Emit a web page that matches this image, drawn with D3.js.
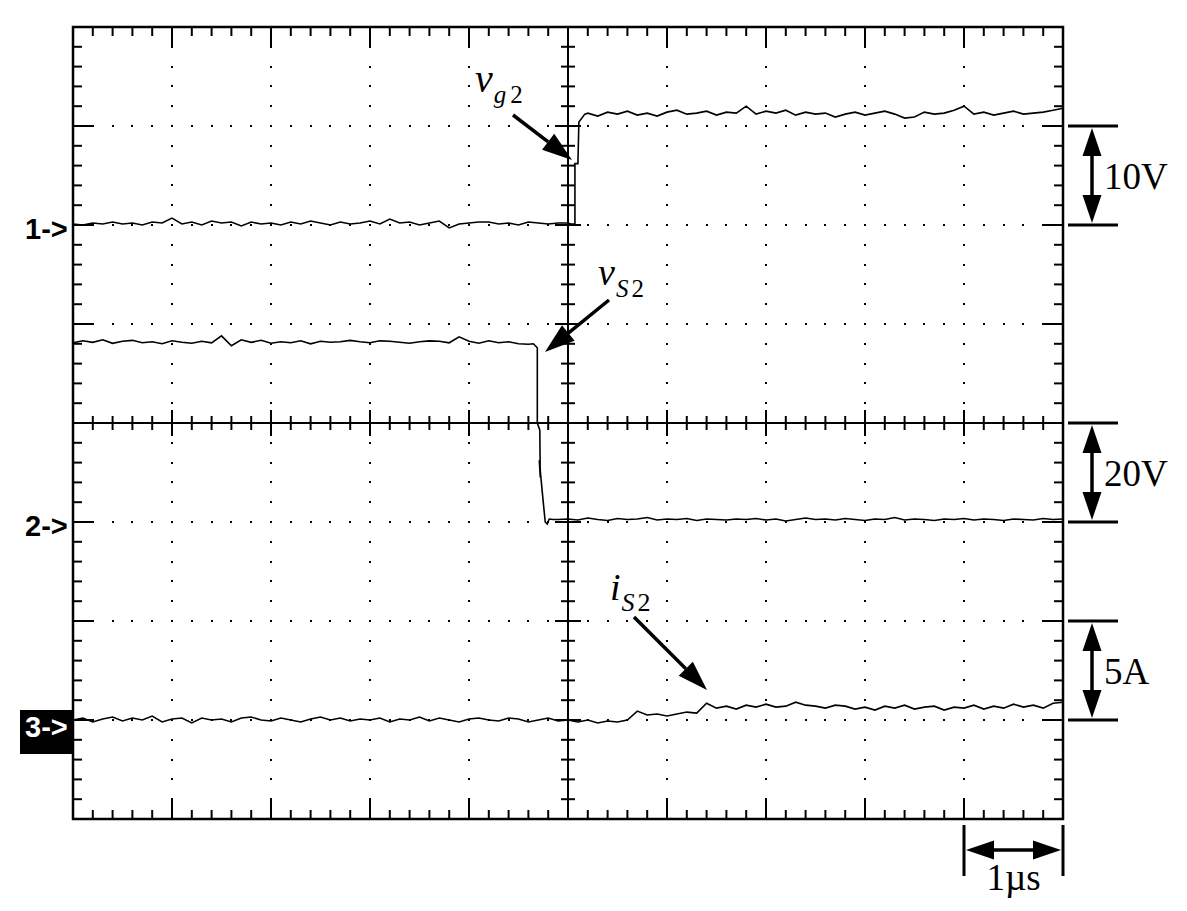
<!DOCTYPE html>
<html><head><meta charset="utf-8">
<script src="https://cdn.jsdelivr.net/npm/d3@7"></script>
<style>body{margin:0;background:#fff}</style>
</head><body>
<svg id="c" width="1187" height="911"></svg>
<script>
// ---- data (time in µs, 0.1 µs sample step) ----
// Channel 1: v_g2 (10 V/div)
const ch1LowStart = -5.0;
const ch1Low = [0.1,0.0,0.2,0.1,0.3,0.1,0.2,0.0,0.3,0.2,0.7,0.1,0.3,0.0,0.4,0.2,0.3,-0.1,0.3,0.1,
  0.2,0.0,0.3,0.1,0.4,0.2,0.0,0.3,0.1,0.2,0.4,0.1,0.6,0.2,0.3,0.0,0.2,0.4,-0.3,0.1,
  0.2,0.3,0.3,0.1,0.2,0.0,0.3,0.2,0.1,0.2,0.2];
const ch1Edge = [[0.03,0.1],[0.07,0.1],[0.07,6.2],[0.10,6.2],[0.11,10.4],[0.17,11.2]];
const ch1HighStart = 0.2;
const ch1High = [11.3,11.0,11.4,11.2,11.5,11.1,11.3,11.0,11.4,11.6,11.2,11.3,11.5,11.1,11.4,11.3,12.0,11.2,11.5,11.3,
  11.6,11.1,11.4,11.2,11.3,10.9,11.2,11.4,11.1,11.3,11.5,11.2,10.8,10.9,11.4,11.2,11.3,11.6,12.0,11.2,
  11.4,11.1,11.3,11.5,11.2,11.3,11.4,11.6,11.8];
// Channel 2: v_S2 (20 V/div)
const ch2HighStart = -5.0;
const ch2High = [36.2,36.6,36.3,36.8,36.1,36.5,36.7,36.2,36.4,36.0,36.6,36.3,36.1,36.5,36.2,37.6,35.6,36.8,36.3,36.7,
  36.1,36.4,36.2,36.6,36.0,36.5,36.3,36.4,36.7,36.4,36.2,36.6,36.5,36.3,36.1,36.4,36.6,36.5,36.2,37.4,
  36.5,36.1,36.6,36.2,36.4,36.0,35.9];
const ch2Edge = [[-0.35,36.0],[-0.31,35.2],[-0.31,20.0],[-0.285,18.6],[-0.28,9.0],[-0.29,12.5],[-0.27,8.2],
  [-0.25,4.0],[-0.23,0.0],[-0.21,-0.4],[-0.19,0.6],[-0.15,0.5]];
const ch2LowStart = -0.1;
const ch2Low = [0.5,0.6,0.4,0.8,0.5,0.3,0.7,0.5,0.6,0.9,0.4,0.6,0.5,0.7,0.3,0.6,0.5,0.4,0.6,0.5,
  0.7,0.4,0.6,0.2,0.5,0.8,0.5,0.6,0.4,0.7,0.5,0.3,0.6,0.5,0.9,0.4,0.6,0.5,0.3,0.6,
  0.5,0.7,0.4,0.6,0.5,0.3,0.6,0.5,0.4,0.7,0.5,0.6];
// Channel 3: i_S2 (5 A/div)
const ch3PreStart = -5.0;
const ch3Pre = [0.0,0.1,-0.1,0.05,0.15,-0.05,0.1,0.0,0.2,-0.1,0.05,0.1,-0.15,0.1,0.0,0.05,-0.1,0.1,0.15,0.0,
  -0.05,0.1,0.0,-0.1,0.05,0.15,0.0,0.1,-0.05,0.05,0.0,0.1,-0.1,0.05,0.0,0.15,-0.05,0.1,0.0,-0.1,
  0.05,0.1,0.0,-0.05,0.1,0.05,-0.1,0.0,0.1,-0.05,0.0];
const ch3PostStart = 0.1;
const ch3Post = [-0.1,0.0,-0.15,-0.05,-0.1,0.0,0.45,0.25,0.3,0.2,
  0.3,0.4,0.35,0.85,0.6,0.7,0.55,0.75,0.65,0.8,
  0.65,0.7,0.9,0.75,0.7,0.6,0.75,0.7,0.55,0.65,
  0.5,0.7,0.6,0.75,0.55,0.65,0.7,0.5,0.65,0.6,
  0.75,0.55,0.7,0.6,0.8,0.65,0.75,0.6,0.85,0.9];
const step = 0.1;

// scale indicators
const channelMarkers = [{label:"1->", div:2, boxed:false},{label:"2->", div:-1, boxed:false},{label:"3->", div:-3, boxed:true}];
const scaleBars = [{label:"10V", from:2, to:3},{label:"20V", from:-1, to:0},{label:"5A", from:-3, to:-2}];
const timeBar = {label:"1µs", from:4, to:5};

// ---- scales ----
const L=73, R=1063, T=27, B=819;
const x = d3.scaleLinear().domain([-5,5]).range([L,R]);
const yDiv = d3.scaleLinear().domain([-4,4]).range([B,T]);
const y1 = d3.scaleLinear().domain([-60,20]).range([B,T]);   // 10 V/div, ground at +2 div
const y2 = d3.scaleLinear().domain([-60,100]).range([B,T]);  // 20 V/div, ground at -1 div
const y3 = d3.scaleLinear().domain([-5,35]).range([B,T]);    // 5 A/div, ground at -3 div

const svg = d3.select("#c");
const g = svg.append("g");

// grid dots
const dots = [];
for (let i=1;i<10;i++){ if(i===5) continue;
  for (let k=1;k<40;k++) dots.push([x(i-5), yDiv(-4+k/5)]);
}
for (let j=1;j<8;j++){ if(j===4) continue;
  for (let k=1;k<50;k++) dots.push([x(-5+k/5), yDiv(j-4)]);
}
g.selectAll("rect.dot").data(dots).join("rect").attr("class","dot")
  .attr("x",d=>Math.round(d[0])-1).attr("y",d=>Math.round(d[1])-1).attr("width",2).attr("height",2).attr("fill","#000");

// border ticks
const tk = g.append("g").attr("stroke","#000").attr("stroke-width",2);
for (let k=1;k<50;k++){
  const xx = x(-5+k/5), major = k%5===0, len = major?21:9;
  tk.append("line").attr("x1",xx).attr("x2",xx).attr("y1",T).attr("y2",T+len);
  tk.append("line").attr("x1",xx).attr("x2",xx).attr("y1",B).attr("y2",B-len);
  const cl = major?13:7;
  tk.append("line").attr("x1",xx).attr("x2",xx).attr("y1",yDiv(0)-cl).attr("y2",yDiv(0)+cl);
}
for (let k=1;k<40;k++){
  const yy = yDiv(-4+k/5), major = k%5===0, len = major?21:9;
  tk.append("line").attr("y1",yy).attr("y2",yy).attr("x1",L).attr("x2",L+len);
  tk.append("line").attr("y1",yy).attr("y2",yy).attr("x1",R).attr("x2",R-len);
  const cl = major?13:7;
  tk.append("line").attr("y1",yy).attr("y2",yy).attr("x1",x(0)-cl).attr("x2",x(0)+cl);
}
// center cross
tk.append("line").attr("x1",x(0)).attr("x2",x(0)).attr("y1",T).attr("y2",B);
tk.append("line").attr("x1",L).attr("x2",R).attr("y1",yDiv(0)).attr("y2",yDiv(0));
// frame
g.append("rect").attr("x",L).attr("y",T).attr("width",R-L).attr("height",B-T)
  .attr("fill","none").attr("stroke","#000").attr("stroke-width",2.5);

// traces
function series(start, vals){ return vals.map((v,i)=>[start+i*step, v]); }
const tr1 = series(ch1LowStart,ch1Low).concat(ch1Edge, series(ch1HighStart,ch1High));
const tr2 = series(ch2HighStart,ch2High).concat(ch2Edge, series(ch2LowStart,ch2Low));
const tr3 = series(ch3PreStart,ch3Pre).concat(series(ch3PostStart,ch3Post));
[[tr1,y1],[tr2,y2],[tr3,y3]].forEach(([d,ys])=>{
  g.append("path").attr("d", d3.line().x(p=>x(p[0])).y(p=>ys(p[1]))(d))
   .attr("fill","none").attr("stroke","#000").attr("stroke-width",1.6).attr("stroke-linejoin","miter");
});

// channel markers
channelMarkers.forEach(m=>{
  const yy = yDiv(m.div);
  if (m.boxed) g.append("rect").attr("x",20).attr("y",yy-10).attr("width",L-20).attr("height",44).attr("fill","#000");
  g.append("text").attr("x",25).attr("y",yy+(m.boxed?17:14)).text(m.label)
   .attr("font-family","Liberation Sans, Arial, sans-serif").attr("font-size",29).attr("font-weight","bold")
   .attr("fill", m.boxed?"#fff":"#000");
});

// arrows
function arrowHead(x1,y1,x2,y2,len,w){
  const a=Math.atan2(y2-y1,x2-x1), bx=x2-len*Math.cos(a), by=y2-len*Math.sin(a);
  const px=-Math.sin(a)*w/2, py=Math.cos(a)*w/2;
  g.append("path").attr("d",`M${x2},${y2}L${bx+px},${by+py}L${bx-px},${by-py}Z`).attr("fill","#000");
  return [bx,by];
}
function arrow(x1,y1,x2,y2,len,w){
  const [bx,by]=arrowHead(x1,y1,x2,y2,len,w);
  g.append("line").attr("x1",x1).attr("y1",y1).attr("x2",bx).attr("y2",by).attr("stroke","#000").attr("stroke-width",3.5);
}
function dblArrow(x1,y1,x2,y2,len,w){
  const [ax,ay]=arrowHead(x2,y2,x1,y1,len,w);
  const [bx,by]=arrowHead(x1,y1,x2,y2,len,w);
  g.append("line").attr("x1",ax).attr("y1",ay).attr("x2",bx).attr("y2",by).attr("stroke","#000").attr("stroke-width",3.5);
}
const serif = "Liberation Serif, Times New Roman, serif";
scaleBars.forEach(s=>{
  const ya=yDiv(s.to), yb=yDiv(s.from);
  [ya,yb].forEach(yy=>g.append("line").attr("x1",1068).attr("x2",1118).attr("y1",yy).attr("y2",yy).attr("stroke","#000").attr("stroke-width",3));
  dblArrow(1092,ya+2,1092,yb-2,28,19);
  g.append("text").attr("x",1104).attr("y",(ya+yb)/2+13).text(s.label)
   .attr("font-family",serif).attr("font-size",37);
});
{
  const xa=x(timeBar.from), xb=x(timeBar.to);
  [xa,xb].forEach(xx=>g.append("line").attr("x1",xx).attr("x2",xx).attr("y1",825).attr("y2",876).attr("stroke","#000").attr("stroke-width",3));
  dblArrow(xa+2,850,xb-2,850,28,19);
  g.append("text").attr("x",(xa+xb)/2).attr("y",890).attr("text-anchor","middle").text(timeBar.label)
   .attr("font-family",serif).attr("font-size",37);
}

// trace labels
function label(xx,yy,main,sub1,sub2,fsMain,fsSub,dy,gap){
  const t=g.append("text").attr("x",xx).attr("y",yy).attr("font-family",serif);
  t.append("tspan").text(main).attr("font-style","italic").attr("font-size",fsMain);
  t.append("tspan").text(sub1).attr("font-style","italic").attr("font-size",fsSub).attr("dy",dy).attr("dx",1);
  t.append("tspan").text(sub2).attr("font-size",fsSub).attr("dx",gap);
}
label(475,92,"v","g","2",40,25,11,4);
arrow(513,115,572,160,30,20);
label(598,285,"v","S","2",38,25,12,3);
arrow(609,300,545,352,30,20);
label(610,600,"i","S","2",38,26,11,3);
arrow(634,617,707,690,30,20);
</script>
</body></html>
